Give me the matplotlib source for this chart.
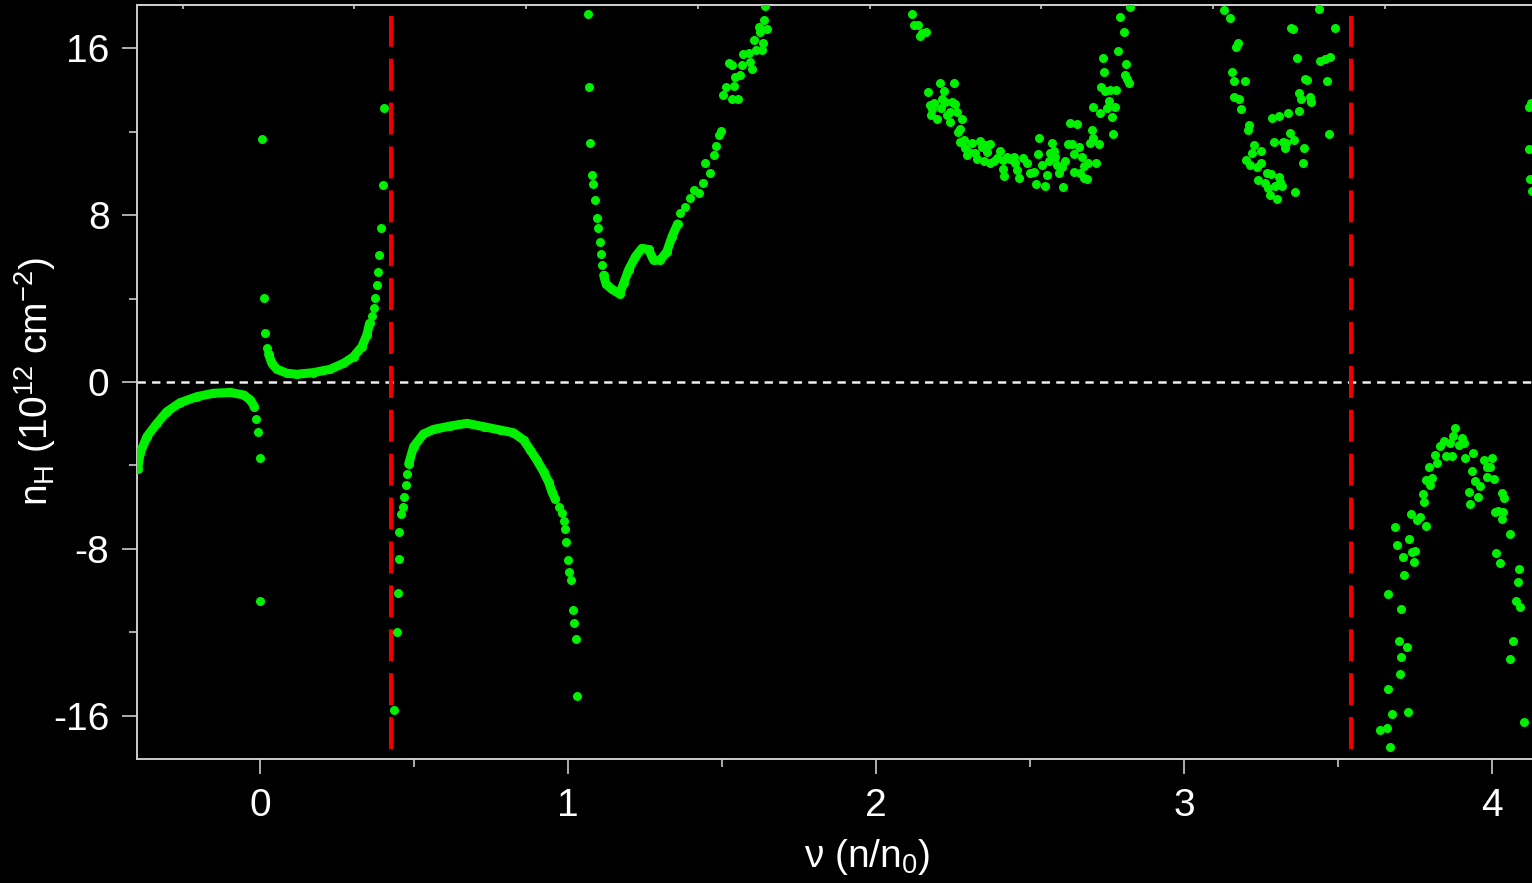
import matplotlib
matplotlib.use('Agg')
import matplotlib.pyplot as plt

plt.rcParams['font.family'] = ['Liberation Sans', 'DejaVu Sans']
plt.rcParams['axes.unicode_minus'] = False
plt.rcParams['lines.scale_dashes'] = False

GREEN = '#00f000'

# dense stretches of the measured curve (drawn as thick line + dots)
nu_c1 = [-0.398, -0.39, -0.368, -0.335, -0.303, -0.26, -0.205, -0.152, -0.097, -0.054, -0.032, -0.019]
nh_c1 = [-4.18, -3.42, -2.62, -1.98, -1.42, -0.99, -0.70, -0.54, -0.50, -0.62, -0.86, -1.18]

nu_c2 = [0.027, 0.038, 0.054, 0.087, 0.119, 0.173, 0.227, 0.27, 0.303, 0.33, 0.346, 0.355]
nh_c2 = [1.34, 0.89, 0.61, 0.42, 0.37, 0.45, 0.61, 0.89, 1.21, 1.69, 2.25, 2.81]

nu_c3 = [0.482, 0.498, 0.53, 0.563, 0.617, 0.671, 0.725, 0.779, 0.822, 0.855, 0.877, 0.898, 0.92, 0.936, 0.947, 0.958]
nh_c3 = [-3.93, -3.10, -2.49, -2.27, -2.11, -1.98, -2.14, -2.30, -2.43, -2.78, -3.26, -3.74, -4.30, -4.78, -5.25, -5.62]

nu_c4 = [1.115, 1.123, 1.142, 1.167, 1.18, 1.196, 1.218, 1.239, 1.261, 1.277, 1.299, 1.32, 1.337, 1.355]
nh_c4 = [5.11, 4.69, 4.44, 4.22, 4.73, 5.37, 6.0, 6.40, 6.35, 5.84, 5.84, 6.24, 6.96, 7.57]

# sparse points near the divergences
nu_s1 = [-0.013, -0.0065, -0.001, 0.0, 0.0065, 0.011, 0.015, 0.021]
nh_s1 = [-1.77, -2.38, -3.64, -10.5, 11.66, 4.02, 2.33, 1.64]

nu_s2 = [0.364, 0.369, 0.374, 0.379, 0.383, 0.387, 0.393, 0.398, 0.403,
         0.435, 0.443, 0.446, 0.45, 0.452, 0.458, 0.462, 0.468, 0.472, 0.476]
nh_s2 = [3.18, 3.54, 4.04, 4.65, 5.28, 6.07, 7.39, 9.44, 13.13,
         -15.7, -12.0, -10.1, -8.46, -7.17, -6.32, -5.97, -5.49, -4.93, -4.41]

nu_s3 = [0.969, 0.98, 0.985, 0.988, 0.994, 1.0, 1.004, 1.01, 1.015, 1.019, 1.024, 1.028,
         1.064, 1.068, 1.072, 1.077, 1.082, 1.088, 1.093, 1.097, 1.102, 1.106, 1.11]
nh_s3 = [-6.0, -6.26, -6.64, -7.03, -7.68, -8.53, -9.12, -9.49, -10.94, -11.53, -12.33, -15.04,
         17.63, 14.11, 11.45, 9.93, 9.49, 8.72, 7.87, 7.36, 6.71, 6.13, 5.59]

# noisy clouds at higher filling
nu_cl1 = [1.364, 1.38, 1.396, 1.407, 1.423, 1.439, 1.445, 1.461, 1.472, 1.479, 1.488, 1.496,
          1.502, 1.513, 1.531, 1.537, 1.551, 1.521, 1.531, 1.542, 1.558, 1.564, 1.569, 1.586,
          1.591, 1.596, 1.604, 1.61, 1.629, 1.632, 1.618, 1.623, 1.637, 1.646, 1.64]
nh_cl1 = [8.08, 8.37, 8.8, 9.2, 9.04, 9.51, 10.48, 9.99, 10.86, 11.32, 11.83, 12.04,
          13.76, 14.11, 13.57, 14.18, 13.57, 15.26, 15.19, 14.6, 14.71, 15.19, 15.71, 15.74,
          15.34, 14.98, 16.38, 15.9, 15.9, 16.22, 17.02, 16.75, 17.33, 16.93, 18.0]

nu_cl2 = [2.117, 2.121, 2.134, 2.141, 2.148, 2.163, 2.169, 2.206, 2.221, 2.252, 2.175, 2.186,
          2.213, 2.224, 2.181, 2.21, 2.246, 2.256, 2.178, 2.197, 2.229, 2.24, 2.262, 2.238,
          2.28, 2.273, 2.267, 2.273, 2.284, 2.289, 2.311, 2.3, 2.294, 2.321, 2.327, 2.338,
          2.343, 2.357, 2.368, 2.359, 2.349, 2.37, 2.381, 2.403, 2.392, 2.413, 2.413, 2.416,
          2.424, 2.435, 2.446, 2.451, 2.457, 2.465, 2.478, 2.489, 2.5, 2.511, 2.519, 2.524,
          2.53, 2.539, 2.549, 2.554, 2.56, 2.565, 2.57, 2.576, 2.581, 2.587, 2.592, 2.603,
          2.606, 2.614, 2.621, 2.628, 2.635, 2.641, 2.643, 2.652, 2.657, 2.662, 2.668, 2.673,
          2.675, 2.684, 2.689, 2.693, 2.699, 2.705, 2.713, 2.722, 2.703, 2.727, 2.736, 2.74,
          2.731, 2.744, 2.76, 2.778, 2.755, 2.749, 2.774, 2.765, 2.769, 2.784, 2.803, 2.792,
          2.811, 2.806, 2.814, 2.819, 2.825]
nh_cl2 = [17.64, 17.08, 17.1, 16.57, 16.74, 16.79, 13.91, 14.31, 13.92, 14.3, 13.27, 13.35,
          13.54, 13.43, 13.06, 13.11, 13.43, 13.32, 12.77, 12.61, 12.79, 12.95, 12.92, 12.46,
          12.58, 12.1, 11.96, 11.51, 11.59, 11.19, 11.46, 11.03, 10.86, 10.95, 10.67, 11.54,
          11.27, 11.33, 11.40, 11.0, 10.57, 10.48, 10.6, 11.07, 10.71, 10.63, 10.22, 9.88,
          10.79, 10.67, 10.79, 10.51, 10.16, 9.79, 10.71, 10.51, 9.99, 10.07, 9.49, 10.92,
          11.67, 10.4, 9.39, 9.92, 10.6, 10.95, 11.43, 11.08, 10.76, 10.4, 10.03, 10.28,
          9.33, 10.6, 11.40, 12.39, 11.40, 10.92, 10.05, 12.36, 11.27, 9.99, 10.79, 9.75,
          10.35, 9.71, 10.51, 11.46, 12.07, 11.67, 10.47, 11.40, 13.16, 12.87, 15.50, 14.86,
          14.11, 13.95, 13.99, 13.97, 13.47, 13.11, 13.16, 12.68, 11.88, 15.86, 16.78, 17.5,
          15.21, 14.71, 14.5, 14.31, 17.98]

nu_cl3 = [3.128, 3.149, 3.173, 3.169, 3.155, 3.16, 3.196, 3.162, 3.177, 3.183, 3.211, 3.206,
          3.225, 3.249, 3.22, 3.201, 3.214, 3.236, 3.25, 3.239, 3.268, 3.281, 3.263, 3.271,
          3.277, 3.295, 3.306, 3.317, 3.3, 3.312, 3.286, 3.309, 3.336, 3.374, 3.29, 3.322,
          3.331, 3.328, 3.342, 3.357, 3.39, 3.385, 3.361, 3.366, 3.346, 3.353, 3.371, 3.379,
          3.393, 3.398, 3.407, 3.412, 3.437, 3.442, 3.458, 3.474, 3.463, 3.469, 3.491]
nh_cl3 = [17.82, 17.46, 16.25, 16.06, 14.86, 14.42, 14.42, 13.67, 13.54, 13.06, 12.31, 12.07,
          11.35, 11.07, 10.95, 10.63, 10.4, 10.31, 10.51, 9.68, 10.03, 9.96, 9.55, 9.28,
          8.96, 9.40, 9.83, 9.39, 8.79, 9.6, 12.66, 12.74, 12.9, 12.97, 11.51, 11.51,
          11.47, 11.19, 11.94, 11.59, 11.19, 10.47, 9.12, 15.50, 16.97, 16.89, 13.83, 13.57,
          14.53, 14.47, 13.67, 13.43, 17.87, 15.38, 15.46, 15.58, 14.43, 11.86, 16.97]

nu_cl4 = [3.878, 3.842, 3.831, 3.864, 3.874, 3.891, 3.902, 3.907, 3.851, 3.869, 3.815, 3.82,
          3.793, 3.912, 3.939, 3.934, 3.972, 3.999, 3.983, 3.994, 3.786, 3.804, 3.799, 3.945,
          3.961, 3.983, 4.004, 3.925, 3.775, 3.779, 3.955, 3.929, 4.032, 4.037, 3.737, 3.764,
          3.757, 3.784, 4.01, 4.017, 4.036, 4.03, 3.685, 4.056, 3.731, 3.690, 3.739, 3.75,
          3.709, 3.746, 4.013, 4.024, 3.712, 4.086, 4.082, 3.663, 3.705, 4.076, 4.091, 3.696,
          3.723, 3.703, 4.066, 4.059, 3.699, 3.661, 3.674, 3.727, 3.634, 3.657, 3.669, 4.103,
          4.118, 4.126, 4.12, 4.123, 4.129]
nh_cl4 = [-2.22, -2.83, -3.07, -2.91, -2.59, -3.02, -2.67, -2.91, -3.54, -3.54, -3.50, -3.90,
          -4.06, -3.66, -3.39, -4.26, -3.74, -3.66, -4.09, -4.09, -4.69, -4.61, -4.93, -4.73,
          -4.98, -4.53, -4.66, -5.25, -5.38, -5.76, -5.52, -5.86, -5.34, -5.57, -6.34, -6.45,
          -6.61, -6.88, -6.21, -6.18, -6.23, -6.58, -6.95, -7.27, -7.5, -7.81, -8.13, -8.08,
          -8.37, -8.62, -8.19, -8.66, -9.23, -8.94, -9.58, -10.16, -10.89, -10.49, -10.76, -12.39,
          -12.71, -13.17, -12.42, -13.27, -14.0, -14.69, -15.9, -15.81, -16.67, -16.56, -17.5, -16.29,
          13.19, 13.38, 11.15, 9.71, 9.15]

# transitions marked by red dashed lines
nu_transitions = [0.425, 3.542]
top_ticks = [-0.25, 0.305, 0.864, 1.422, 1.981, 2.536, 3.094, 3.653, 4.21]

fig = plt.figure(figsize=(15.32, 8.83), dpi=100, facecolor='black')
ax = fig.add_axes([137 / 1532, 1 - 759 / 883, 1460 / 1532, 754 / 883])
ax.set_facecolor('black')

ax.axhline(0, color='#eeeeee', lw=1.8, dashes=(6, 4.5), zorder=1)
for nu in nu_transitions:
    ax.plot([nu, nu], [-17.58, 17.53], color='#ee0000', lw=2.9, dashes=(23, 8.6), zorder=2)

for xs, ys in [(nu_c1, nh_c1), (nu_c2, nh_c2), (nu_c3, nh_c3), (nu_c4, nh_c4)]:
    ax.plot(xs, ys, '-', color=GREEN, lw=6.5, solid_capstyle='round', solid_joinstyle='round', zorder=3)
    ax.plot(xs, ys, 'o', color=GREEN, ms=6.5, mec='none', zorder=3)

for xs, ys in [(nu_s1, nh_s1), (nu_s2, nh_s2), (nu_s3, nh_s3),
               (nu_cl1, nh_cl1), (nu_cl2, nh_cl2), (nu_cl3, nh_cl3), (nu_cl4, nh_cl4)]:
    ax.plot(xs, ys, 'o', color=GREEN, ms=6.5, mec='none', zorder=3)

ax.set_xlim(-0.4, 4.34)
ax.set_ylim(-18.06, 18.06)

ax.set_xticks([0, 1, 2, 3, 4])
ax.set_xticks([0.5, 1.5, 2.5, 3.5], minor=True)
ax.set_yticks([-16, -8, 0, 8, 16])
ax.set_yticks([-12, -4, 4, 12], minor=True)

for side in ['left', 'bottom', 'top']:
    ax.spines[side].set_color('#cccccc')
    ax.spines[side].set_linewidth(1.4)
ax.spines['right'].set_visible(False)

ax.tick_params(which='major', length=10.8, width=1.2, color='#cccccc', labelcolor='white', labelsize=28)
ax.tick_params(which='minor', length=5.8, width=1.2, color='#cccccc')
ax.tick_params(axis='y', which='major', pad=9)
ax.tick_params(axis='x', which='major', pad=10)

sec = ax.secondary_xaxis('top')
sec.set_xticks(top_ticks)
sec.tick_params(direction='in', length=3, width=1.2, color='#cccccc', labeltop=False)
sec.spines['top'].set_color('#cccccc')
sec.spines['top'].set_linewidth(1.4)

ax.set_ylabel(r'n$_\mathregular{H}$ (10$^\mathregular{12}$ cm$^\mathregular{-2}$)', color='white', fontsize=28, va='center')
ax.yaxis.set_label_coords(-0.0699, 0.5)
ax.set_xlabel(r'ν (n/n$_\mathregular{0}$)', color='white', fontsize=28, va='baseline')
ax.xaxis.set_label_coords((867 - 137) / 1460, (759 - 867) / 754)

fig.savefig('out.png', dpi=100, facecolor='black')
